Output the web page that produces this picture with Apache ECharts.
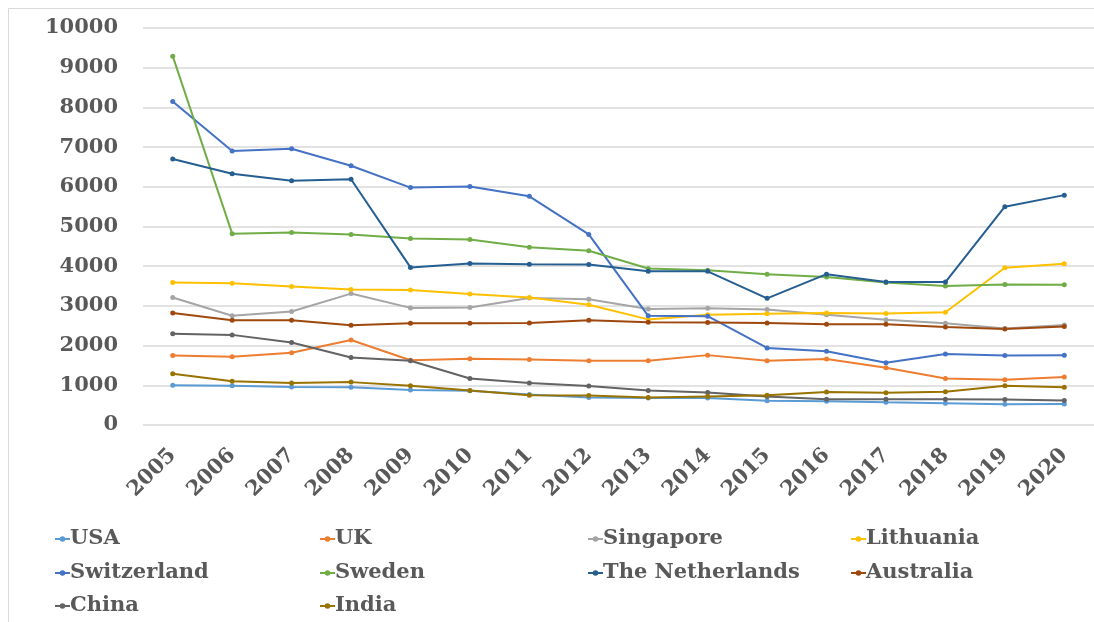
<!DOCTYPE html>
<html>
<head>
<meta charset="utf-8">
<script src="https://cdn.jsdelivr.net/npm/echarts@6/dist/echarts.min.js"></script>
<style>
  html, body { margin: 0; padding: 0; background: #ffffff; }
  #chart { width: 1094px; height: 622px; }
</style>
</head>
<body>
<div id="chart"></div>
<script>
// Years on the category axis
const years = ['2005', '2006', '2007', '2008', '2009', '2010', '2011', '2012',
               '2013', '2014', '2015', '2016', '2017', '2018', '2019', '2020'];

// Yearly values per country
const usa         = [1000, 990, 960, 950, 880, 860, 770, 690, 680, 680, 610, 600, 570, 550, 520, 530];
const uk          = [1750, 1720, 1820, 2140, 1630, 1670, 1650, 1620, 1620, 1760, 1620, 1660, 1440, 1170, 1140, 1210];
const singapore   = [3210, 2750, 2860, 3310, 2950, 2960, 3200, 3170, 2920, 2940, 2910, 2780, 2650, 2560, 2430, 2520];
const lithuania   = [3590, 3570, 3490, 3410, 3400, 3300, 3210, 3030, 2660, 2780, 2800, 2820, 2810, 2840, 3960, 4060];
const switzerland = [8150, 6900, 6960, 6530, 5980, 6010, 5760, 4800, 2750, 2740, 1940, 1860, 1570, 1790, 1750, 1760];
const sweden      = [9290, 4820, 4850, 4800, 4700, 4670, 4480, 4390, 3940, 3900, 3800, 3730, 3590, 3500, 3540, 3530];
const netherlands = [6700, 6330, 6150, 6190, 3970, 4070, 4050, 4040, 3870, 3870, 3190, 3800, 3600, 3600, 5500, 5790];
const australia   = [2820, 2640, 2640, 2510, 2560, 2560, 2570, 2640, 2590, 2580, 2570, 2540, 2540, 2470, 2420, 2480];
const china       = [2300, 2270, 2080, 1700, 1620, 1170, 1060, 980, 870, 820, 720, 650, 650, 650, 640, 620];
const india       = [1290, 1100, 1060, 1080, 990, 870, 750, 740, 690, 720, 750, 830, 810, 840, 990, 950];

// Value axis range and step
const yMin = 0, yMax = 10000, yStep = 1000;

const seriesDefs = [
  { name: 'USA',             data: usa,         color: '#5B9BD5' },
  { name: 'UK',              data: uk,          color: '#ED7D31' },
  { name: 'Singapore',       data: singapore,   color: '#A5A5A5' },
  { name: 'Lithuania',       data: lithuania,   color: '#FFC000' },
  { name: 'Switzerland',     data: switzerland, color: '#4472C4' },
  { name: 'Sweden',          data: sweden,      color: '#70AD47' },
  { name: 'The Netherlands', data: netherlands, color: '#255E91' },
  { name: 'Australia',       data: australia,   color: '#9E480E' },
  { name: 'China',           data: china,       color: '#636363' },
  { name: 'India',           data: india,       color: '#997300' }
];

const FONT = '"DejaVu Serif", "Liberation Serif", serif';
const TEXT_COLOR = '#595959';

// Legend laid out as a 4-column grid, one legend block per entry
const legendCols = [49, 314, 582, 845];
const legendRows = [522, 556, 589];
const legends = seriesDefs.map((s, i) => ({
  data: [s.name],
  left: legendCols[i % 4],
  top: legendRows[Math.floor(i / 4)],
  orient: 'horizontal',
  itemWidth: 15,
  itemHeight: 7,
  itemGap: 0,
  selectedMode: false,
  textStyle: {
    fontFamily: FONT,
    fontWeight: 'bold',
    fontSize: 21,
    color: TEXT_COLOR,
    lineHeight: 24,
    padding: [0, 0, 0, -5]
  }
}));

const chart = echarts.init(document.getElementById('chart'), null, { renderer: 'canvas' });

chart.setOption({
  animation: false,
  backgroundColor: '#ffffff',
  color: seriesDefs.map(s => s.color),
  graphic: [{
    type: 'rect',
    shape: { x: 8.5, y: 8.5, width: 1200, height: 700 },
    style: { fill: 'none', stroke: '#D9D9D9', lineWidth: 1 },
    silent: true,
    z: -10
  }],
  grid: {
    left: 143,
    right: 0,
    top: 28,
    bottom: 197,
    containLabel: false
  },
  legend: legends,
  xAxis: {
    type: 'category',
    data: years,
    boundaryGap: true,
    axisLine: { show: false },
    axisTick: { show: false },
    axisLabel: {
      rotate: 45,
      margin: 27,
      fontFamily: FONT,
      fontWeight: 'bold',
      fontSize: 21,
      color: TEXT_COLOR,
      interval: 0
    },
    splitLine: { show: false }
  },
  yAxis: {
    type: 'value',
    min: yMin,
    max: yMax,
    interval: yStep,
    axisLine: { show: false },
    axisTick: { show: false },
    axisLabel: {
      margin: 25,
      fontFamily: FONT,
      fontWeight: 'bold',
      fontSize: 21,
      color: TEXT_COLOR,
      formatter: v => String(v)
    },
    splitLine: { show: true, lineStyle: { color: '#D9D9D9', width: 1.5 } }
  },
  series: seriesDefs.map(s => ({
    name: s.name,
    type: 'line',
    data: s.data,
    symbol: 'circle',
    symbolSize: 5,
    showSymbol: true,
    lineStyle: { width: 2, color: s.color },
    itemStyle: { color: s.color },
    emphasis: { disabled: true }
  }))
});
</script>
</body>
</html>
